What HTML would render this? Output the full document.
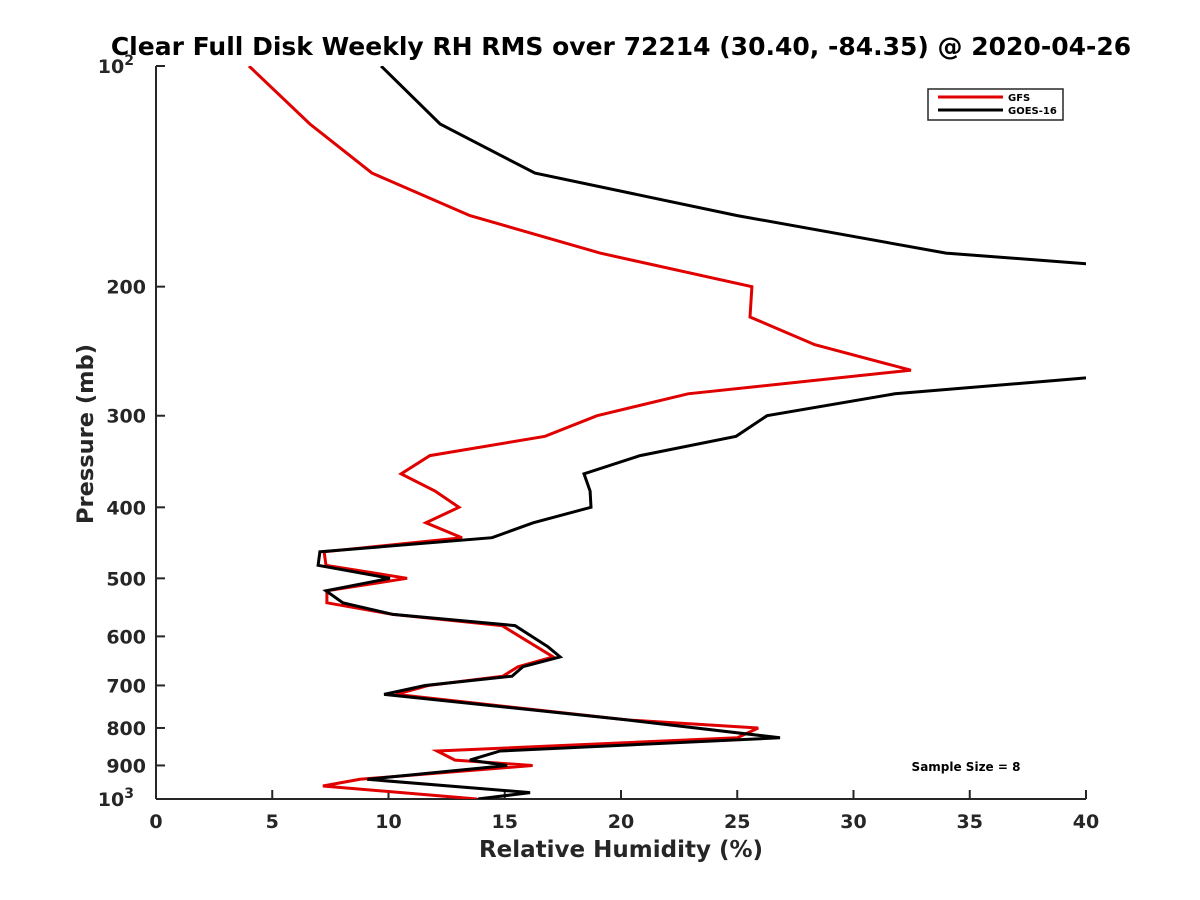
<!DOCTYPE html>
<html><head><meta charset="utf-8"><style>
body{margin:0;background:#fff;}
svg{display:block;font-family:"DejaVu Sans","Liberation Sans",sans-serif;}
</style></head><body>
<svg id="chart" width="1200" height="900" viewBox="0 0 1200 900">
<defs><clipPath id="plotclip"><rect x="156" y="66" width="930" height="733"/></clipPath></defs>
<text x="621" y="55" text-anchor="middle" font-size="25" font-weight="bold" fill="#000">Clear Full Disk Weekly RH RMS over 72214 (30.40, -84.35) @ 2020-04-26</text>
<g id="axes"></g>
<g id="series" clip-path="url(#plotclip)"></g>
<g>
<rect x="928" y="89" width="135" height="31" fill="#fff" stroke="#262626" stroke-width="1.5"/>
<line x1="938" y1="97" x2="1003" y2="97" stroke="#e00000" stroke-width="3"/>
<text x="1008" y="101" font-size="10" font-weight="bold">GFS</text>
<line x1="938" y1="110" x2="1003" y2="110" stroke="#000" stroke-width="3"/>
<text x="1008" y="114" font-size="10" font-weight="bold">GOES-16</text>
</g>
<text x="966" y="771" text-anchor="middle" font-size="12" font-weight="bold">Sample Size = 8</text>
<text x="621" y="857" text-anchor="middle" font-size="23" font-weight="bold" fill="#262626">Relative Humidity (%)</text>
<text x="93" y="434" text-anchor="middle" font-size="22.5" font-weight="bold" fill="#262626" transform="rotate(-90 93 434)">Pressure (mb)</text>
</svg>
<script>
const xTicks=[0,5,10,15,20,25,30,35,40];
const yTicks=[100,200,300,400,500,600,700,800,900,1000];
const gfsP=[100,120,140,160,180,200,220,240,260,280,300,320,340,360,380,400,420,440,460,480,500,520,540,560,580,640,660,680,700,720,780,800,825,860,885,900,940,960,1000];
const gfsRH=[4.0,6.62,9.29,13.5,19.1,25.63,25.55,28.34,32.47,22.88,18.97,16.73,11.78,10.54,12.0,13.03,11.61,13.16,7.23,7.31,10.8,7.35,7.35,10.19,14.88,17.08,15.57,14.92,11.7,10.32,20.26,25.9,25.0,12.09,12.86,16.2,8.77,7.18,13.8];
const goesP=[100,120,140,160,180,200,220,240,260,280,300,320,340,360,380,400,420,440,460,480,500,520,540,560,580,620,640,660,680,700,720,780,825,860,885,900,940,980,1000];
const goesRH=[9.68,12.22,16.3,25.0,33.98,53,55,50,44,31.78,26.28,24.95,20.82,18.41,18.67,18.71,16.22,14.45,7.05,6.97,10.06,7.31,8.04,10.19,15.44,16.86,17.38,15.78,15.31,11.57,9.81,20.26,26.84,14.8,13.5,15.1,9.08,16.09,13.85];
const X0=156,X1=1086,Y0=66,Y1=799;
function xs(v){return X0+(v-0)/40*(X1-X0);}
function ys(p){return Y0+(Math.log10(p)-2)*(Y1-Y0);}
const NS="http://www.w3.org/2000/svg";
const axes=document.getElementById('axes');
function mk(tag,attrs,parent){const e=document.createElementNS(NS,tag);for(const k in attrs)e.setAttribute(k,attrs[k]);parent.appendChild(e);return e;}
const ax=mk('line',{x1:X0,y1:Y1,x2:X1,y2:Y1,stroke:'#262626','stroke-width':2},axes);


const ay=mk('line',{x1:X0,y1:Y0,x2:X0,y2:Y1,stroke:'#262626','stroke-width':2},axes);


xTicks.forEach(v=>{
  const t=mk('line',{x1:xs(v),y1:Y1,x2:xs(v),y2:Y1-9,stroke:'#262626','stroke-width':2},axes);
  
  
  const l=mk('text',{x:xs(v),y:Y1+29,'text-anchor':'middle','font-size':19,'font-weight':'bold',fill:'#262626'},axes);
  l.textContent=v;
  
  
});
yTicks.forEach(p=>{
  const y=ys(p);
  const t=mk('line',{x1:X0,y1:y,x2:X0+9,y2:y,stroke:'#262626','stroke-width':2},axes);
  
  
  const l=mk('text',{x:X0-10,y:y+7,'text-anchor':'end','font-size':19,'font-weight':'bold',fill:'#262626'},axes);
  if(p===100||p===1000){
    l.textContent='10';
    const s=mk('tspan',{dy:-8,'font-size':14},l);
    s.textContent=p===100?'2':'3';
    l.setAttribute('x',X0-22);
  } else l.textContent=p;
  
  
});
const sg=document.getElementById('series');
function line(P,R,color,name){
  const d=P.map((p,i)=>(i?'L':'M')+xs(R[i]).toFixed(1)+','+ys(p).toFixed(1)).join(' ');
  const e=mk('path',{d:d,fill:'none',stroke:color,'stroke-width':3,'stroke-linejoin':'miter'},sg);
  
  
}
line(gfsP,gfsRH,'#e00000','gfs-line');
line(goesP,goesRH,'#000','goes16-line');
</script>
</body></html>
